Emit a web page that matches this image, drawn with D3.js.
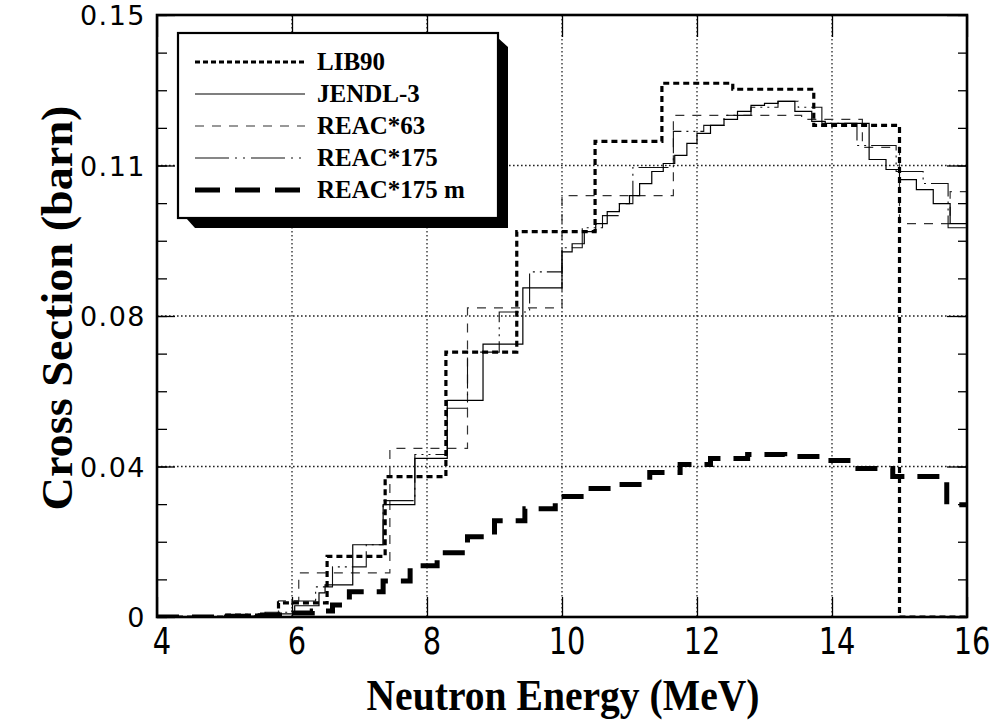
<!DOCTYPE html>
<html>
<head>
<meta charset="utf-8">
<script src="https://cdn.jsdelivr.net/npm/d3@7/dist/d3.min.js"></script>
<style>
html,body{margin:0;padding:0;background:#fff;}
svg{display:block;}
</style>
</head>
<body>
<svg id="chart" width="995" height="720"></svg>
<script>
// ---------------- DATA ----------------
const seriesNames = ["LIB90", "JENDL-3", "REAC*63", "REAC*175", "REAC*175 m"];

const lib90Edges  = [4, 5.0, 5.8, 6.52, 7.38, 8.28, 9.33, 10.49, 11.48, 12.53, 13.73, 15.0, 16];
const lib90Values = [0, 0.0005, 0.0035, 0.0151, 0.035, 0.066, 0.096, 0.1185, 0.133, 0.1315, 0.1225, 0];

const jendlEdges  = [4, 5.0, 5.5, 6.04, 6.4, 6.49, 6.9, 7.35, 7.82, 8.3, 8.83, 9.42, 10.0, 10.15, 10.33, 10.5, 10.67, 10.85, 11.0, 11.15,
                     11.33, 11.5, 11.67, 11.85, 12.0, 12.2, 12.4, 12.6, 12.8, 13.0, 13.2, 13.45, 13.7, 13.9, 14.55, 14.8, 15.0, 15.25, 15.5, 15.75, 16];
const jendlValues = [0, 0.0002, 0.0008, 0.0028, 0.006, 0.008, 0.018, 0.028, 0.0395, 0.054, 0.068, 0.082, 0.091, 0.093, 0.096, 0.098, 0.101, 0.103, 0.105, 0.108,
                     0.111, 0.113, 0.115, 0.118, 0.1205, 0.1225, 0.124, 0.126, 0.1275, 0.128, 0.1285, 0.126, 0.1235, 0.123, 0.114, 0.1115, 0.109, 0.1065, 0.103, 0.098];

const reac63Edges  = [4, 5.0, 5.8, 6.1, 7.45, 8.6, 10.0, 11.65, 13.55, 14.45, 15.0, 15.75, 16];
const reac63Values = [0, 0.0005, 0.004, 0.011, 0.042, 0.077, 0.105, 0.125, 0.124, 0.117, 0.098, 0.106];

const reac175Edges  = [4.0, 5.0, 5.6, 6.0, 6.35, 6.6, 7.1, 7.35, 7.82, 8.3, 8.6, 9.07, 9.52, 10.0, 10.3, 10.6, 10.85, 11.05, 11.65, 12.1,
                       12.4, 12.8, 13.2, 13.5, 13.85, 14.37, 14.95, 15.35, 15.72, 16.0];
const reac175Values = [0, 0.0003, 0.0012, 0.004, 0.0075, 0.0125, 0.018, 0.029, 0.0405, 0.052, 0.066, 0.076, 0.086, 0.092, 0.097, 0.100, 0.103, 0.112, 0.121, 0.1225,
                       0.125, 0.127, 0.1285, 0.127, 0.123, 0.1175, 0.111, 0.108, 0.097];

const reac175mEdges  = [4, 5.0, 5.5, 6.0, 6.3, 6.6, 6.85, 7.35, 7.75, 8.15, 8.6, 9.0, 9.45, 9.9, 10.35, 10.8, 11.3, 11.75, 12.2, 12.75,
                        13.3, 13.85, 14.3, 14.9, 15.7, 16];
const reac175mValues = [0, 0.0002, 0.0005, 0.001, 0.0015, 0.003, 0.0063, 0.009, 0.0128, 0.016, 0.020, 0.024, 0.027, 0.030, 0.032, 0.033, 0.036, 0.038, 0.0395, 0.0405,
                        0.040, 0.039, 0.037, 0.035, 0.028];

const xTickValues = [4, 6, 8, 10, 12, 14, 16];
const xTickLabels = ["4", "6", "8", "10", "12", "14", "16"];
const yTickValues = [0, 0.0375, 0.075, 0.1125, 0.15];
const yTickLabels = ["0", "0.04", "0.08", "0.11", "0.15"];

const xTitle = "Neutron  Energy  (MeV)";
const yTitle = "Cross  Section  (barn)";

// ---------------- LAYOUT ----------------
const svg = d3.select("#chart");
const X0 = 157, X1 = 967, Y0 = 617, Y1 = 15;
const x = d3.scaleLinear().domain([4, 16]).range([X0, X1]);
const y = d3.scaleLinear().domain([0, 0.15]).range([Y0, Y1]);

svg.append("defs").append("clipPath").attr("id", "plotclip")
  .append("rect").attr("x", X0).attr("y", Y1 - 2).attr("width", X1 - X0).attr("height", Y0 - Y1 + 2);

// gridlines (dotted)
const grid = svg.append("g");
xTickValues.slice(1, -1).forEach(v => {
  grid.append("line").attr("x1", x(v)).attr("x2", x(v)).attr("y1", Y1).attr("y2", Y0)
    .attr("stroke", "#222").attr("stroke-width", 1.3).attr("stroke-dasharray", "1.6,2.4");
});
yTickValues.slice(1, -1).forEach(v => {
  grid.append("line").attr("x1", X0).attr("x2", X1).attr("y1", y(v)).attr("y2", y(v))
    .attr("stroke", "#222").attr("stroke-width", 1.3).attr("stroke-dasharray", "1.6,2.4");
});

// axes via d3 (ticks drawn inward)
const minorY = d3.range(0, 17).map(i => i * 0.15 / 16);
const axL = svg.append("g").attr("transform", `translate(${X0},0)`)
  .call(d3.axisRight(y).tickValues(minorY).tickSize(10).tickFormat(""));
const axR = svg.append("g").attr("transform", `translate(${X1},0)`)
  .call(d3.axisLeft(y).tickValues(minorY).tickSize(9).tickFormat(""));
const axLm = svg.append("g").attr("transform", `translate(${X0},0)`)
  .call(d3.axisRight(y).tickValues(yTickValues).tickSize(18).tickFormat(""));
const axRm = svg.append("g").attr("transform", `translate(${X1},0)`)
  .call(d3.axisLeft(y).tickValues(yTickValues).tickSize(20).tickFormat(""));
const axB = svg.append("g").attr("transform", `translate(0,${Y0})`)
  .call(d3.axisTop(x).tickValues(xTickValues).tickSize(20).tickFormat(""));
const axT = svg.append("g").attr("transform", `translate(0,${Y1})`)
  .call(d3.axisBottom(x).tickValues(xTickValues).tickSize(22).tickFormat(""));
[axL, axR, axLm, axRm, axB, axT].forEach(g => {
  g.select(".domain").remove();
  g.selectAll("line").attr("stroke", "#000").attr("stroke-width", 1.3);
});

// tick labels
svg.append("g").selectAll("text").data(yTickValues).join("text")
  .attr("x", 146).attr("y", (d) => y(d) + 10)
  .attr("text-anchor", "end").attr("font-family", "'DejaVu Sans', sans-serif")
  .attr("font-size", 27).attr("letter-spacing", 1.5).attr("fill", "#000")
  .text((d, i) => yTickLabels[i]);
svg.append("g").selectAll("text").data(xTickValues).join("text")
  .attr("transform", (d) => `translate(${x(d) + 5},654) scale(0.78,1)`)
  .attr("text-anchor", "middle").attr("font-family", "'DejaVu Sans', sans-serif")
  .attr("font-size", 37).attr("fill", "#000")
  .text((d, i) => xTickLabels[i]);

// axis titles
const titleFont = "'Liberation Serif', 'Times New Roman', serif";
svg.append("text").attr("x", 563).attr("y", 710).attr("text-anchor", "middle")
  .attr("font-family", titleFont).attr("font-weight", "bold").attr("font-size", 45)
  .attr("textLength", 393).attr("lengthAdjust", "spacingAndGlyphs")
  .text(xTitle);
svg.append("text").attr("transform", "translate(72,308) rotate(-90)").attr("text-anchor", "middle")
  .attr("font-family", titleFont).attr("font-weight", "bold").attr("font-size", 45)
  .attr("textLength", 405).attr("lengthAdjust", "spacingAndGlyphs")
  .text(yTitle);

// ---------------- SERIES ----------------
function stepPoints(edges, values) {
  const pts = values.map((v, i) => [edges[i], v]);
  pts.push([edges[edges.length - 1], values[values.length - 1]]);
  return pts;
}
const line = d3.line().x(d => x(d[0])).y(d => y(d[1])).curve(d3.curveStepAfter);

const styles = {
  "LIB90":      {w: 3.2, dash: "6,4", color: "#000"},
  "JENDL-3":    {w: 1.2, dash: null, color: "#000"},
  "REAC*63":    {w: 1.2, dash: "9,8", color: "#333"},
  "REAC*175":   {w: 1.1, dash: "30,5,2,5,2,5", color: "#111"},
  "REAC*175 m": {w: 5, dash: "22,13", color: "#000"}
};
const seriesData = [
  {name: "REAC*63", pts: stepPoints(reac63Edges, reac63Values)},
  {name: "REAC*175", pts: stepPoints(reac175Edges, reac175Values)},
  {name: "JENDL-3", pts: stepPoints(jendlEdges, jendlValues)},
  {name: "REAC*175 m", pts: stepPoints(reac175mEdges, reac175mValues)},
  {name: "LIB90", pts: stepPoints(lib90Edges, lib90Values)}
];
const sg = svg.append("g").attr("clip-path", "url(#plotclip)");
seriesData.forEach(s => {
  const st = styles[s.name];
  sg.append("path").attr("d", line(s.pts)).attr("fill", "none")
    .attr("stroke", st.color).attr("stroke-width", st.w)
    .attr("stroke-dasharray", st.dash);
});

// frame
svg.append("rect").attr("x", X0).attr("y", Y1).attr("width", X1 - X0).attr("height", Y0 - Y1)
  .attr("fill", "none").attr("stroke", "#000").attr("stroke-width", 2.6);

// ---------------- LEGEND ----------------
const LX = 178, LY = 33, LW = 320, LH = 185;
svg.append("polygon")
  .attr("points", [[LX + LW, LY + 5], [LX + LW + 10, LY + 14], [LX + LW + 10, LY + LH + 10], [LX + 17, LY + LH + 10], [LX + 8, LY + LH]].map(p => p.join(",")).join(" "))
  .attr("fill", "#000");
svg.append("rect").attr("x", LX).attr("y", LY).attr("width", LW).attr("height", LH)
  .attr("fill", "#fff").attr("stroke", "#000").attr("stroke-width", 2.2);
const rowY = [62, 94, 126, 158, 190];
seriesNames.forEach((n, i) => {
  const st = styles[n];
  svg.append("line").attr("x1", 195).attr("x2", 305).attr("y1", rowY[i]).attr("y2", rowY[i])
    .attr("stroke", st.color).attr("stroke-width", n === "REAC*175 m" ? 5 : (n === "LIB90" ? 2.8 : st.w))
    .attr("stroke-dasharray", n === "REAC*175 m" ? "25,15" : (n === "LIB90" ? "5,3" : (n === "REAC*175" ? "34,6,2,6,2,6" : st.dash)));
  svg.append("text").attr("x", 317).attr("y", rowY[i] + 8)
    .attr("font-family", titleFont).attr("font-weight", "bold").attr("font-size", 25)
    .text(n);
});
</script>
</body>
</html>
